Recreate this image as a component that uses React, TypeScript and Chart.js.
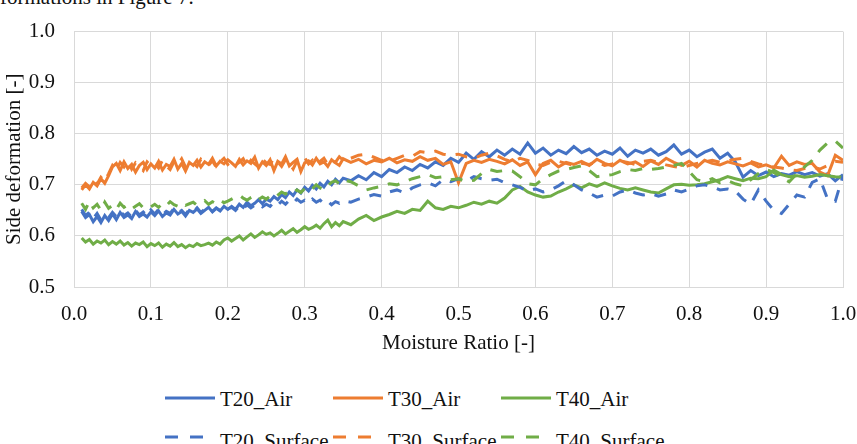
import React, { useEffect, useRef } from "react";
import { Chart, registerables } from "chart.js";

Chart.register(...registerables);

const FONT = "'Liberation Serif', 'Times New Roman', serif";
Chart.defaults.font.family = FONT;

const xDense = [
  0.010, 0.015, 0.020, 0.025, 0.030, 0.035, 0.040, 0.045,
  0.050, 0.055, 0.060, 0.065, 0.070, 0.075, 0.080, 0.085, 0.090, 0.095, 0.100,
  0.105, 0.110, 0.115, 0.120, 0.125, 0.130, 0.135, 0.140, 0.145, 0.150,
  0.155, 0.160, 0.165, 0.170, 0.175, 0.180, 0.185, 0.190, 0.195, 0.200,
  0.205, 0.210, 0.215, 0.220, 0.225, 0.230, 0.235, 0.240, 0.245, 0.250,
  0.255, 0.260, 0.265, 0.270, 0.275, 0.280, 0.285, 0.290, 0.295, 0.300,
  0.305, 0.310, 0.315, 0.320, 0.325, 0.330, 0.335, 0.340, 0.345, 0.350,
];
const xSparse = [
  0.36, 0.37, 0.38, 0.39, 0.40, 0.41, 0.42, 0.43, 0.44, 0.45,
  0.46, 0.47, 0.48, 0.49, 0.50, 0.51, 0.52, 0.53, 0.54, 0.55,
  0.56, 0.57, 0.58, 0.59, 0.60, 0.61, 0.62, 0.63, 0.64, 0.65,
  0.66, 0.67, 0.68, 0.69, 0.70, 0.71, 0.72, 0.73, 0.74, 0.75,
  0.76, 0.77, 0.78, 0.79, 0.80, 0.81, 0.82, 0.83, 0.84, 0.85,
  0.86, 0.87, 0.88, 0.89, 0.90, 0.91, 0.92, 0.93, 0.94, 0.95,
  0.96, 0.97, 0.98, 0.99, 1.00,
];
const moistureRatio = [...xDense, ...xSparse];

const t20Air = [
  0.648, 0.636, 0.642, 0.628, 0.638, 0.626, 0.640, 0.630,
  0.643, 0.632, 0.646, 0.636, 0.641, 0.634, 0.648, 0.638, 0.643, 0.637, 0.647,
  0.640, 0.649, 0.638, 0.645, 0.641, 0.652, 0.643, 0.648, 0.639, 0.650,
  0.646, 0.653, 0.644, 0.650, 0.656, 0.647, 0.654, 0.649, 0.658, 0.652,
  0.658, 0.652, 0.662, 0.656, 0.666, 0.659, 0.664, 0.671, 0.663, 0.672,
  0.668, 0.677, 0.671, 0.681, 0.675, 0.686, 0.679, 0.690, 0.684, 0.695,
  0.688, 0.699, 0.692, 0.703, 0.696, 0.707, 0.700, 0.711, 0.704, 0.713,
  0.708, 0.718, 0.710, 0.724, 0.716, 0.730, 0.724, 0.735, 0.728, 0.740,
  0.733, 0.745, 0.738, 0.752, 0.744, 0.762, 0.750, 0.765, 0.755, 0.768,
  0.758, 0.770, 0.760, 0.782, 0.762, 0.772, 0.758, 0.768, 0.761, 0.775,
  0.763, 0.770, 0.758, 0.766, 0.760, 0.772, 0.756, 0.768, 0.762, 0.770,
  0.758, 0.765, 0.778, 0.760, 0.768, 0.755, 0.764, 0.770, 0.752, 0.762,
  0.745, 0.715, 0.728, 0.718, 0.725, 0.716, 0.722, 0.719, 0.726, 0.720,
  0.724, 0.717, 0.722, 0.708, 0.720,
];

const t30Air = [
  0.690, 0.700, 0.692, 0.705, 0.698, 0.712, 0.703, 0.718,
  0.735, 0.742, 0.728, 0.745, 0.732, 0.740, 0.725, 0.738, 0.744, 0.730, 0.741,
  0.733, 0.746, 0.729, 0.740, 0.736, 0.750, 0.731, 0.742, 0.727, 0.744,
  0.738, 0.748, 0.735, 0.745, 0.740, 0.752, 0.737, 0.746, 0.741, 0.749,
  0.743, 0.736, 0.750, 0.739, 0.747, 0.742, 0.754, 0.733, 0.745, 0.738,
  0.749, 0.728, 0.746, 0.741, 0.755, 0.737, 0.744, 0.750, 0.726, 0.743,
  0.747, 0.739, 0.752, 0.741, 0.745, 0.736, 0.749, 0.743, 0.738, 0.751,
  0.744, 0.750, 0.741, 0.748, 0.745, 0.752, 0.743, 0.749, 0.746, 0.755,
  0.748, 0.752, 0.740, 0.745, 0.704, 0.742, 0.748, 0.744, 0.750, 0.746,
  0.741, 0.749, 0.738, 0.745, 0.720, 0.742, 0.748, 0.735, 0.744, 0.740,
  0.746, 0.738, 0.750, 0.742, 0.737, 0.748, 0.741, 0.745, 0.736, 0.747,
  0.740, 0.752, 0.744, 0.738, 0.746, 0.735, 0.748, 0.742, 0.739, 0.745,
  0.741, 0.737, 0.743, 0.735, 0.739, 0.733, 0.756, 0.738, 0.745, 0.740,
  0.742, 0.725, 0.718, 0.758, 0.748,
];

const t40Air = [
  0.596, 0.588, 0.593, 0.584, 0.590, 0.586, 0.592, 0.583,
  0.589, 0.584, 0.590, 0.582, 0.587, 0.580, 0.586, 0.583, 0.588, 0.579, 0.585,
  0.581, 0.586, 0.578, 0.584, 0.580, 0.587, 0.579, 0.583, 0.577, 0.582,
  0.579, 0.585, 0.581, 0.583, 0.586, 0.582, 0.588, 0.584, 0.592, 0.596,
  0.590, 0.595, 0.600, 0.592, 0.598, 0.604, 0.597, 0.602, 0.608, 0.603,
  0.606, 0.600, 0.605, 0.611, 0.604, 0.609, 0.614, 0.607, 0.612, 0.618,
  0.613, 0.616, 0.621, 0.615, 0.624, 0.631, 0.618, 0.626, 0.620, 0.628,
  0.622, 0.633, 0.640, 0.630, 0.637, 0.642, 0.648, 0.644, 0.652, 0.650,
  0.668, 0.655, 0.652, 0.658, 0.655, 0.660, 0.666, 0.662, 0.668, 0.664,
  0.674, 0.690, 0.697, 0.686, 0.680, 0.676, 0.678, 0.686, 0.692, 0.700,
  0.694, 0.702, 0.697, 0.704, 0.698, 0.693, 0.690, 0.694, 0.690, 0.686,
  0.684, 0.692, 0.700, 0.701, 0.699, 0.700, 0.702, 0.706, 0.710, 0.716,
  0.712, 0.708, 0.713, 0.712, 0.716, 0.729, 0.720, 0.716, 0.718, 0.715,
  0.717, 0.720, 0.718, 0.716, 0.715,
];

const t20Surface = [
  0.652, 0.640, 0.646, 0.634, 0.644, 0.631, 0.641, 0.636,
  0.646, 0.638, 0.649, 0.640, 0.645, 0.637, 0.650, 0.641, 0.647, 0.639, 0.651,
  0.643, 0.652, 0.641, 0.648, 0.644, 0.654, 0.645, 0.650, 0.642, 0.652,
  0.647, 0.655, 0.646, 0.652, 0.657, 0.648, 0.655, 0.650, 0.658, 0.653,
  0.656, 0.650, 0.659, 0.653, 0.661, 0.655, 0.660, 0.664, 0.657, 0.662,
  0.658, 0.666, 0.660, 0.668, 0.662, 0.670, 0.664, 0.672, 0.666, 0.670,
  0.664, 0.672, 0.666, 0.670, 0.663, 0.668, 0.661, 0.667, 0.664, 0.669,
  0.666, 0.672, 0.676, 0.681, 0.678, 0.686, 0.690, 0.684, 0.694, 0.700,
  0.704, 0.698, 0.710, 0.706, 0.712, 0.708, 0.716, 0.712, 0.709, 0.711,
  0.704, 0.700, 0.695, 0.688, 0.692, 0.686, 0.690, 0.698, 0.708, 0.700,
  0.690, 0.684, 0.676, 0.680, 0.678, 0.686, 0.690, 0.684, 0.680, 0.683,
  0.678, 0.682, 0.690, 0.686, 0.692, 0.698, 0.700, 0.696, 0.690, 0.692,
  0.688, 0.672, 0.662, 0.690, 0.668, 0.650, 0.644, 0.662, 0.680, 0.676,
  0.705, 0.712, 0.672, 0.668, 0.718,
];

const t30Surface = [
  0.694, 0.703, 0.696, 0.709, 0.701, 0.715, 0.707, 0.722,
  0.738, 0.729, 0.744, 0.735, 0.747, 0.731, 0.743, 0.736, 0.728, 0.745, 0.737,
  0.742, 0.733, 0.748, 0.737, 0.730, 0.745, 0.739, 0.751, 0.735, 0.741,
  0.744, 0.736, 0.750, 0.742, 0.738, 0.747, 0.734, 0.745, 0.752, 0.740,
  0.746, 0.739, 0.744, 0.751, 0.737, 0.748, 0.741, 0.735, 0.750, 0.743,
  0.740, 0.752, 0.745, 0.736, 0.749, 0.742, 0.731, 0.747, 0.744, 0.753,
  0.741, 0.748, 0.737, 0.746, 0.752, 0.740, 0.747, 0.744, 0.755, 0.748,
  0.752, 0.758, 0.760, 0.754, 0.748, 0.746, 0.752, 0.758, 0.756, 0.765,
  0.763, 0.766, 0.760, 0.758, 0.760, 0.755, 0.752, 0.758, 0.762, 0.757,
  0.750, 0.745, 0.752, 0.748, 0.740, 0.738, 0.744, 0.746, 0.742, 0.738,
  0.742, 0.740, 0.745, 0.738, 0.741, 0.747, 0.744, 0.740, 0.746, 0.748,
  0.744, 0.739, 0.736, 0.733, 0.738, 0.742, 0.745, 0.748, 0.744, 0.747,
  0.750, 0.752, 0.746, 0.741, 0.738, 0.735, 0.733, 0.730, 0.728, 0.732,
  0.735, 0.731, 0.738, 0.746, 0.744,
];

const t40Surface = [
  0.664, 0.652, 0.668, 0.655, 0.662, 0.650, 0.666, 0.654,
  0.660, 0.652, 0.664, 0.656, 0.661, 0.653, 0.658, 0.663, 0.655, 0.660, 0.657,
  0.662, 0.656, 0.664, 0.659, 0.667, 0.661, 0.658, 0.665, 0.660, 0.663,
  0.666, 0.660, 0.664, 0.669, 0.662, 0.667, 0.663, 0.670, 0.665, 0.668,
  0.672, 0.676, 0.680, 0.674, 0.670, 0.675, 0.679, 0.671, 0.676, 0.672,
  0.678, 0.674, 0.680, 0.686, 0.682, 0.688, 0.684, 0.690, 0.685, 0.693,
  0.698, 0.692, 0.700, 0.694, 0.690, 0.698, 0.705, 0.708, 0.702, 0.710,
  0.706, 0.698, 0.690, 0.694, 0.697, 0.702, 0.700, 0.706, 0.712, 0.716,
  0.720, 0.714, 0.716, 0.710, 0.712, 0.706, 0.709, 0.722, 0.730, 0.726,
  0.728, 0.727, 0.716, 0.702, 0.700, 0.712, 0.720, 0.727, 0.730, 0.734,
  0.737, 0.728, 0.716, 0.718, 0.720, 0.726, 0.730, 0.728, 0.732, 0.730,
  0.732, 0.735, 0.738, 0.742, 0.726, 0.710, 0.706, 0.712, 0.704, 0.708,
  0.702, 0.698, 0.710, 0.722, 0.730, 0.724, 0.715, 0.706, 0.722, 0.735,
  0.748, 0.768, 0.782, 0.786, 0.772,
];

const seriesNames = ["T20_Air", "T30_Air", "T40_Air", "T20_Surface", "T30_Surface", "T40_Surface"];
const seriesValues = [t20Air, t30Air, t40Air, t20Surface, t30Surface, t40Surface];
const seriesColors = ["#4472C4", "#ED7D31", "#70AD47", "#4472C4", "#ED7D31", "#70AD47"];
const seriesDashed = [false, false, false, true, true, true];

const W = 857;
const CH = 356;
const PLOT_LEFT = 74;
const PLOT_RIGHT = 843;
const PLOT_BOTTOM = 287;

export default function App() {
  const ref = useRef<HTMLCanvasElement | null>(null);

  useEffect(() => {
    if (!ref.current) return;
    const datasets = seriesNames.map((name, i) => ({
      label: name,
      data: moistureRatio
        .slice(0, seriesValues[i].length)
        .map((x, k) => ({ x, y: seriesValues[i][k] })),
      borderColor: seriesColors[i],
      backgroundColor: seriesColors[i],
      borderWidth: 3,
      borderDash: seriesDashed[i] ? [12, 10] : [],
      pointRadius: 0,
      tension: 0,
      fill: false,
      order: 6 - i,
    }));
    const tickFont = { family: FONT, size: 21 };
    const chart = new Chart(ref.current, {
      type: "line",
      data: { datasets },
      options: {
        animation: false,
        responsive: false,
        layout: { padding: { top: 31.5, left: 2, right: 0, bottom: 0 } },
        plugins: { legend: { display: false }, tooltip: { enabled: false } },
        scales: {
          x: {
            type: "linear",
            min: 0,
            max: 1,
            ticks: {
              stepSize: 0.1,
              padding: 15,
              color: "#111",
              font: tickFont,
              callback: (v: any) => Number(v).toFixed(1),
              maxRotation: 0,
            },
            grid: { color: "#d9d9d9", lineWidth: 1, drawTicks: false },
            border: { color: "#d9d9d9" },
            title: {
              display: true,
              text: "Moisture Ratio [-]",
              color: "#111",
              font: tickFont,
              padding: 0,
            },
            afterFit: (s: any) => {
              s.height = CH - PLOT_BOTTOM;
              s.paddingRight = W - PLOT_RIGHT;
              s.paddingLeft = 0;
            },
          },
          y: {
            min: 0.5,
            max: 1.0,
            ticks: {
              stepSize: 0.1,
              padding: 19,
              color: "#111",
              font: tickFont,
              callback: (v: any) => Number(v).toFixed(1),
            },
            grid: { color: "#d9d9d9", lineWidth: 1, drawTicks: false },
            border: { color: "#d9d9d9" },
            title: {
              display: true,
              text: "Side deformation [-]",
              color: "#111",
              font: tickFont,
              padding: 0,
            },
            afterFit: (s: any) => {
              s.width = PLOT_LEFT - 2;
            },
          },
        },
      },
    });
    return () => chart.destroy();
  }, []);

  const colX = [165, 333, 501];
  const rows = [
    { lineY: 398, base: 406 },
    { lineY: 436.5, base: 448 },
  ];

  return (
    <div style={{ position: "absolute", left: 0, top: 0, width: W, height: 444, overflow: "hidden", background: "#fff" }}>
      <div
        style={{
          position: "absolute",
          left: 0,
          top: -16,
          fontFamily: FONT,
          fontSize: 21,
          lineHeight: "26px",
          color: "#111",
          whiteSpace: "nowrap",
        }}
      >
        formations in Figure 7.
      </div>
      <canvas ref={ref} width={W} height={CH} style={{ position: "absolute", left: 0, top: 0, width: W, height: CH }} />
      {seriesNames.map((name, i) => {
        const r = rows[seriesDashed[i] ? 1 : 0];
        const cx = colX[i % 3];
        return (
          <React.Fragment key={name}>
            <svg
              style={{ position: "absolute", left: cx, top: r.lineY - 3, width: 50, height: 6 }}
              width={50}
              height={6}
            >
              <line
                x1={0}
                y1={3}
                x2={50}
                y2={3}
                stroke={seriesColors[i]}
                strokeWidth={3}
                strokeDasharray={seriesDashed[i] ? "13 12" : undefined}
              />
            </svg>
            <div
              style={{
                position: "absolute",
                left: cx + 55,
                top: r.base - 20,
                fontFamily: FONT,
                fontSize: 21,
                lineHeight: "26px",
                color: "#111",
                whiteSpace: "nowrap",
              }}
            >
              {name}
            </div>
          </React.Fragment>
        );
      })}
    </div>
  );
}
